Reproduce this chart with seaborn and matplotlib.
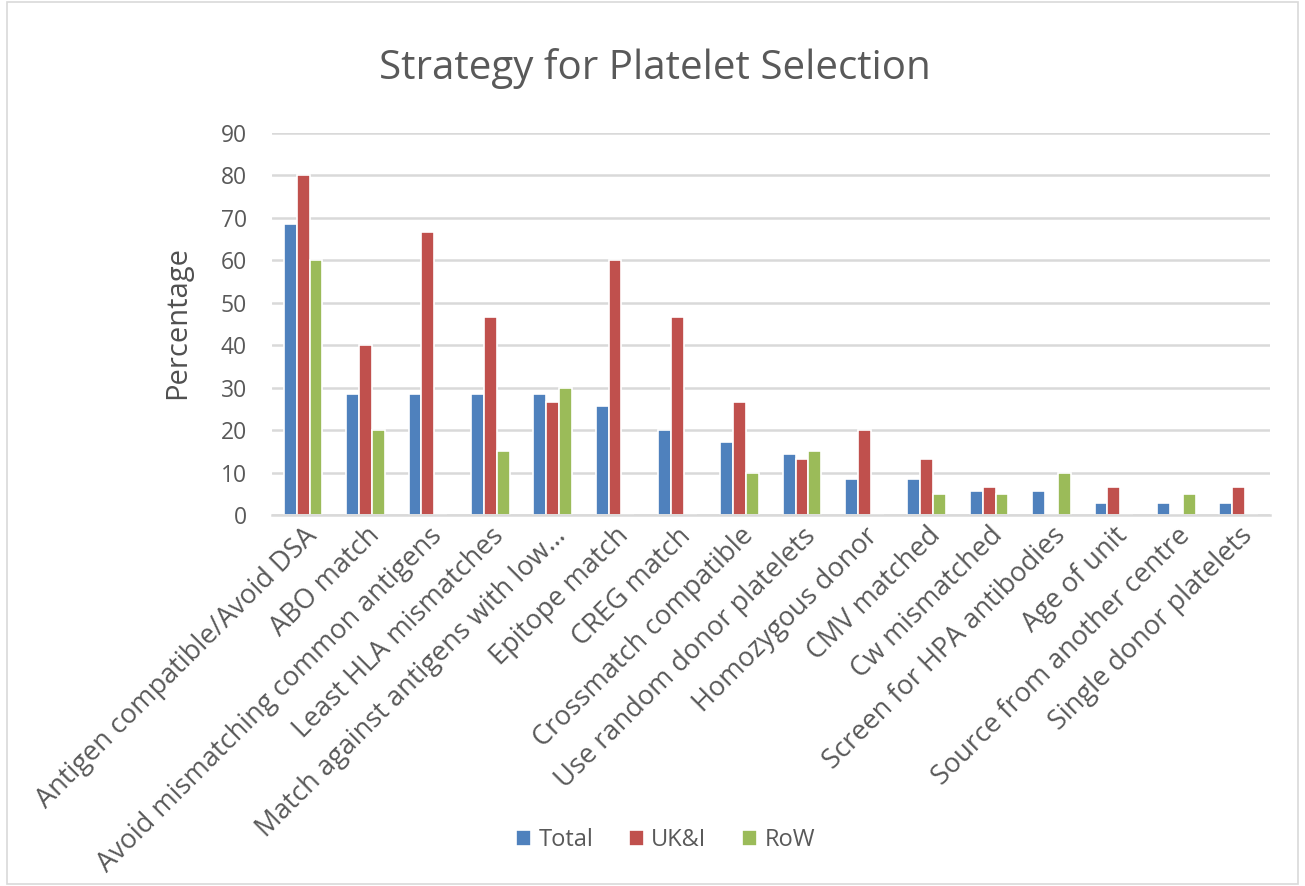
import matplotlib
matplotlib.use("Agg")
import matplotlib.pyplot as plt
import seaborn as sns
import pandas as pd

categories = [
    "Antigen compatible/Avoid DSA", "ABO match", "Avoid mismatching common antigens",
    "Least HLA mismatches", "Match against antigens with low…", "Epitope match",
    "CREG match", "Crossmatch compatible", "Use random donor platelets",
    "Homozygous donor", "CMV matched", "Cw mismatched", "Screen for HPA antibodies",
    "Age of unit", "Source from another centre", "Single donor platelets",
]
total = [68.6, 28.6, 28.6, 28.6, 28.6, 25.7, 20.0, 17.1, 14.3, 8.6, 8.6, 5.7, 5.7, 2.9, 2.9, 2.9]
ukni = [80.0, 40.0, 66.7, 46.7, 26.7, 60.0, 46.7, 26.7, 13.3, 20.0, 13.3, 6.7, 0, 6.7, 0, 6.7]
row = [60.0, 20.0, 0, 15.0, 30.0, 0, 0, 10.0, 15.0, 0, 5.0, 5.0, 10.0, 0, 5.0, 0]
series = ["Total", "UK&I", "RoW"]
colors = ["#4F81BD", "#C0504D", "#9BBB59"]

df = pd.DataFrame({
    "Category": categories * 3,
    "Series": [series[0]] * 16 + [series[1]] * 16 + [series[2]] * 16,
    "Value": total + ukni + row,
})

sns.set_theme(style="white")
plt.rcParams["font.family"] = ["Open Sans", "DejaVu Sans"]
txt = "#595959"

fig = plt.figure(figsize=(13.05, 8.86), dpi=100)
ax = fig.add_axes([0.2084, 0.4187, 0.7646, 0.4312])
sns.barplot(data=df, x="Category", y="Value", hue="Series", hue_order=series,
            palette=colors, width=0.62, edgecolor="white", linewidth=1.2,
            saturation=1, ax=ax, legend=True)

ax.set_ylim(0, 90)
ax.set_yticks(range(0, 91, 10))
ax.yaxis.grid(True, color="#D9D9D9", linewidth=1.8)
ax.set_axisbelow(True)
for s in ["top", "right", "left"]:
    ax.spines[s].set_visible(False)
ax.spines["bottom"].set_color("#D9D9D9")
ax.spines["bottom"].set_linewidth(1.8)
ax.tick_params(axis="both", length=0, colors=txt)
ax.tick_params(axis="y", pad=18, labelsize=16.5)
ax.tick_params(axis="x", pad=5)
ax.set_xticks(range(len(categories)))
ax.set_xticklabels(categories, rotation=45, ha="right", rotation_mode="anchor",
                   fontsize=19.5, color=txt)
ax.set_xlabel("")
ax.set_ylabel("Percentage", fontsize=21, color="#505050")
ax.yaxis.set_label_coords(-0.08, 0.505)

fig.text(0.502, 0.923, "Strategy for Platelet Selection", ha="center", va="center",
         fontsize=29, color=txt)

leg = ax.legend(loc="center", bbox_to_anchor=(0.51, 0.052), bbox_transform=fig.transFigure,
                ncol=3, frameon=False, fontsize=17, handlelength=0.65, handleheight=0.65,
                handletextpad=0.3, columnspacing=1.5)
for t in leg.get_texts():
    t.set_color(txt)

border = plt.Rectangle((0.005, 0.002), 0.99, 0.996, transform=fig.transFigure,
                       fill=False, edgecolor="#D9D9D9", linewidth=1.2)
fig.patches.append(border)

fig.savefig("out.png", dpi=100)
